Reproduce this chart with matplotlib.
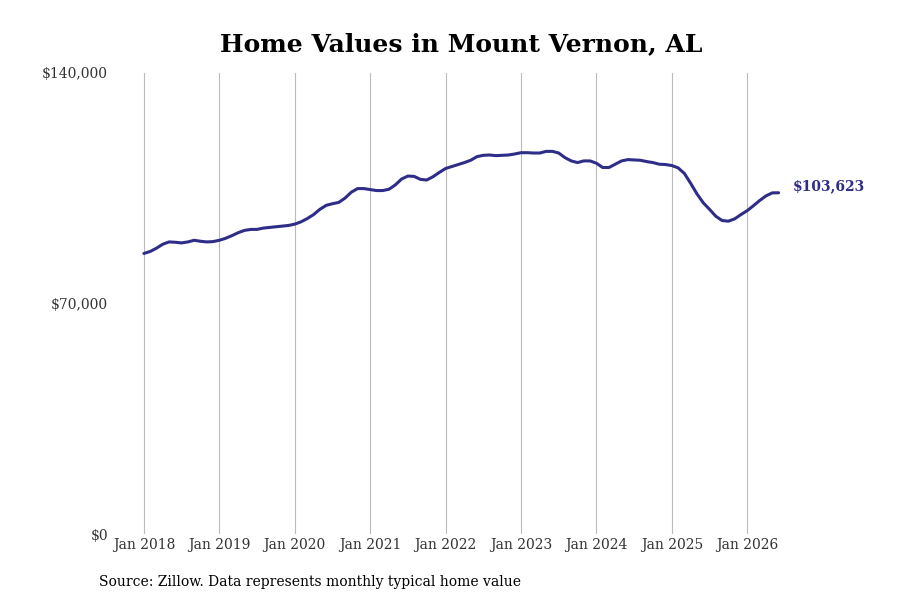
import numpy as np
import pandas as pd
import matplotlib
matplotlib.use("Agg")
import matplotlib.pyplot as plt

# monthly typical home value, Jan 2018 - Jun 2026 (thousands of $)
values_k = [
    85.2, 85.8, 86.8, 88.0, 88.7, 88.6, 88.4, 88.7, 89.2, 88.9, 88.7, 88.8,      # 2018
    89.2, 89.8, 90.6, 91.5, 92.2, 92.5, 92.5, 92.9, 93.1, 93.3, 93.5, 93.7,      # 2019
    94.1, 94.8, 95.8, 97.0, 98.6, 99.8, 100.3, 100.7, 102.0, 103.8, 104.9, 104.9,  # 2020
    104.6, 104.3, 104.3, 104.7, 106.0, 107.8, 108.7, 108.6, 107.7, 107.5, 108.5, 109.8,  # 2021
    111.0, 111.6, 112.2, 112.8, 113.5, 114.6, 115.0, 115.1, 114.9, 115.0, 115.1, 115.4,  # 2022
    115.8, 115.8, 115.7, 115.7, 116.2, 116.2, 115.7, 114.3, 113.3, 112.8, 113.3, 113.3,  # 2023
    112.6, 111.3, 111.3, 112.3, 113.3, 113.7, 113.6, 113.5, 113.1, 112.8, 112.3, 112.2,  # 2024
    111.9, 111.2, 109.5, 106.5, 103.3, 100.6, 98.6, 96.5, 95.2, 95.0, 95.7, 97.0,  # 2025
    98.2, 99.7, 101.3, 102.7, 103.6, 103.623,                                    # 2026
]
dates = pd.date_range("2018-01-01", periods=len(values_k), freq="MS")
values = np.array(values_k) * 1000

tick_years = list(range(2018, 2027))
tick_labels = ["Jan %d" % y for y in tick_years]
y_ticks = [0, 70000, 140000]
y_labels = ["$0", "$70,000", "$140,000"]

line_color = "#2e2d88"
plt.rcParams["font.family"] = ["DejaVu Serif"]

fig = plt.figure(figsize=(9, 6), dpi=100)
ax = fig.add_axes([115 / 900, 66 / 600, 685 / 900, 461 / 600])

x = np.arange(len(values))
ax.plot(x, values, color=line_color, linewidth=2.2, solid_capstyle="round")

ax.set_ylim(0, 140000)
ax.set_xlim(-4.6, 104.4)
ax.set_yticks(y_ticks)
ax.set_yticklabels(y_labels)
ax.set_xticks([(y - 2018) * 12 for y in tick_years])
ax.set_xticklabels(tick_labels)
ax.tick_params(axis="both", length=0, labelsize=10, colors="#333333")
ax.tick_params(axis="y", pad=5)
ax.tick_params(axis="x", pad=3)
ax.grid(axis="x", color="#bbbbbb", linewidth=0.8)
ax.set_axisbelow(True)
for s in ax.spines.values():
    s.set_visible(False)

last = values[-1]
ax.annotate("${:,.0f}".format(last), xy=(x[-1], last), xytext=(10, 5),
            textcoords="offset points", fontsize=10, fontweight="bold",
            color=line_color, va="center", ha="left", annotation_clip=False)

fig.text(461 / 900, 1 - 44 / 600, "Home Values in Mount Vernon, AL",
         fontsize=18, fontweight="bold", ha="center", va="center")
fig.text(99 / 900, 1 - 582 / 600,
         "Source: Zillow. Data represents monthly typical home value",
         fontsize=10, ha="left", va="center")

fig.savefig("out.png", dpi=100)
